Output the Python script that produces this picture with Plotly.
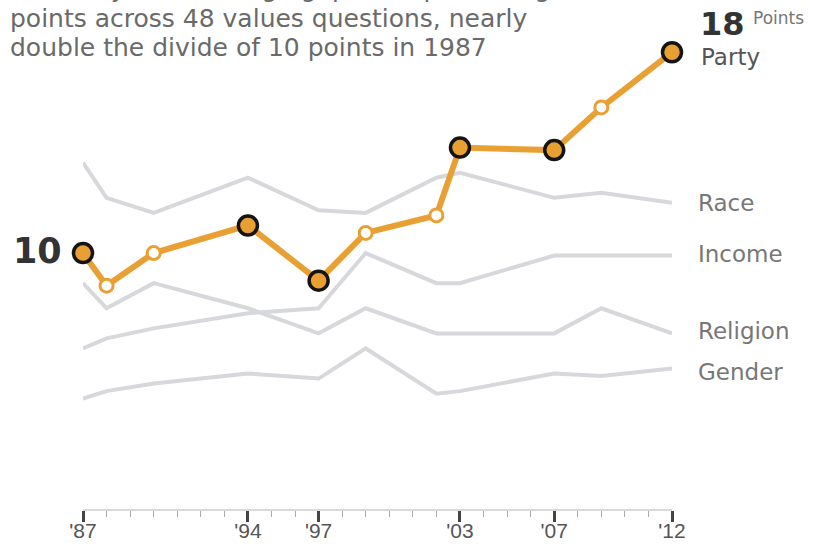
import plotly.graph_objects as go

# Survey years and average gap (percentage points) by group
years = [1987, 1988, 1990, 1994, 1997, 1999, 2002, 2003, 2007, 2009, 2012]
party = [10, 8.7, 10.0, 11.1, 8.9, 10.8, 11.5, 14.2, 14.1, 15.8, 18]
race = [13.6, 12.2, 11.6, 13.0, 11.7, 11.6, 13.0, 13.2, 12.2, 12.4, 12.0]
income = [6.2, 6.6, 7.0, 7.6, 7.8, 10.0, 8.8, 8.8, 9.9, 9.9, 9.9]
religion = [8.8, 7.8, 8.8, 7.8, 6.8, 7.8, 6.8, 6.8, 6.8, 7.8, 6.8]
gender = [4.2, 4.5, 4.8, 5.2, 5.0, 6.2, 4.4, 4.5, 5.2, 5.1, 5.4]

# Years shown with a labelled tick (and a solid marker on the party line)
tick_years = [1987, 1994, 1997, 2003, 2007, 2012]
tick_text = ["'87", "'94", "'97", "'03", "'07", "'12"]

W, H = 822, 544
ORANGE = "#E9A033"
GRAY = "#D6D8DB"
SANS = "DejaVu Sans, Verdana, sans-serif"


def px(x):
    return x / W


def py(y):
    return 1 - y / H


fig = go.Figure()

for vals in (race, income, religion, gender):
    fig.add_trace(go.Scatter(
        x=years, y=vals, mode="lines",
        line=dict(color=GRAY, width=4),
        hoverinfo="skip", showlegend=False,
    ))

fig.add_trace(go.Scatter(
    x=years, y=party, mode="lines",
    line=dict(color=ORANGE, width=6),
    showlegend=False, hoverinfo="skip",
))

solid = [yr in tick_years for yr in years]
fig.add_trace(go.Scatter(
    x=years, y=party, mode="markers",
    marker=dict(
        size=[19 if s else 13 for s in solid],
        color=[ORANGE if s else "white" for s in solid],
        opacity=1,
        line=dict(color=["#141414" if s else ORANGE for s in solid],
                  width=[3.5 if s else 3 for s in solid]),
    ),
    cliponaxis=False, showlegend=False,
))

fig.update_layout(
    width=W, height=H,
    margin=dict(l=0, r=0, t=0, b=0, pad=0, autoexpand=False),
    paper_bgcolor="white", plot_bgcolor="white",
    showlegend=False,
    xaxis=dict(
        domain=[px(83), px(672)],
        range=[1987, 2012],
        anchor="free", position=py(510),
        automargin=False,
        showgrid=False, zeroline=False,
        showline=True, linecolor="#DADADA", linewidth=1.5,
        tickmode="array", tickvals=tick_years, ticktext=tick_text,
        ticks="outside", ticklen=11, tickwidth=2.5, tickcolor="#444",
        ticklabelstandoff=-9,
        tickfont=dict(family="Liberation Sans Narrow, Arial Narrow, sans-serif",
                      size=21, color="#555"),
        minor=dict(dtick=1, tick0=1987, ticks="outside", ticklen=6,
                   tickwidth=1, tickcolor="#AAAAAA", showgrid=False),
    ),
    yaxis=dict(
        domain=[0, 1], range=[-1.59, 20.08],
        visible=False, automargin=False,
    ),
)

# Caption above the chart (its first line runs off the top edge)
caption = [
    "Currently, the average gap is 18 percentage",
    "points across 48 values questions, nearly",
    "double the divide of 10 points in 1987",
]
for i, line in enumerate(caption):
    fig.add_annotation(
        xref="paper", yref="paper", x=px(8), y=py(-9 + 28 * i if i else -11),
        xanchor="left", yanchor="middle", showarrow=False,
        text=line, font=dict(family=SANS, size=25, color="#6a6a6a"),
    )

# Start and end values of the party gap
fig.add_annotation(
    xref="paper", yref="paper", x=px(64), y=py(251),
    xanchor="right", yanchor="middle", showarrow=False,
    text=f"<b>{party[0]:g}</b>",
    font=dict(family=SANS, size=35, color="#333"),
)
fig.add_annotation(
    xref="paper", yref="paper", x=px(698), y=py(24),
    xanchor="left", yanchor="middle", showarrow=False,
    text=f"<b>{party[-1]:g}</b>",
    font=dict(family=SANS, size=32, color="#333"),
)
fig.add_annotation(
    xref="paper", yref="paper", x=px(751), y=py(18),
    xanchor="left", yanchor="middle", showarrow=False,
    text="Points", font=dict(family=SANS, size=17, color="#777"),
)
fig.add_annotation(
    xref="paper", yref="paper", x=px(699), y=py(57),
    xanchor="left", yanchor="middle", showarrow=False,
    text="Party", font=dict(family=SANS, size=23, color="#555"),
)

# Series names at the right end of the grey lines
for name, yc in (("Race", 203), ("Income", 254), ("Religion", 331), ("Gender", 372)):
    fig.add_annotation(
        xref="paper", yref="paper", x=px(696), y=py(yc),
        xanchor="left", yanchor="middle", showarrow=False,
        text=name, font=dict(family=SANS, size=23, color="#777"),
    )

fig.write_html("out.html")
